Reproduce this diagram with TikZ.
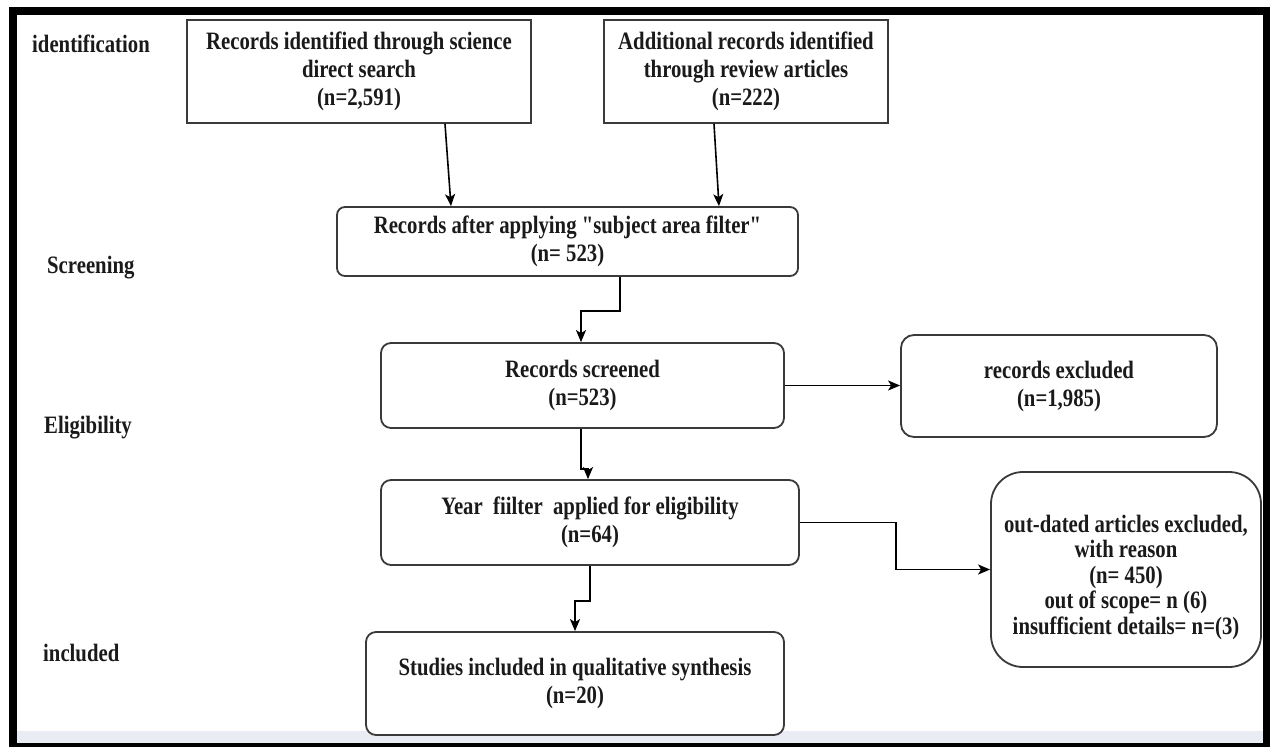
\documentclass[tikz,border=0pt]{standalone}
\usepackage{fontspec}
\setmainfont{Liberation Serif}[FakeStretch=0.83, Ligatures=TeXOff]
\usetikzlibrary{arrows.meta,calc}
\definecolor{boxc}{HTML}{3A3A3A}
\definecolor{txt}{HTML}{1A1A1A}
\definecolor{bandc}{HTML}{E9EDF3}
\begin{document}
\begin{tikzpicture}[x=1pt,y=-1pt,
  txtfont/.style={font=\fontsize{25}{28}\selectfont\bfseries},
  box/.style={draw=boxc, line width=1.8pt, fill=white, inner sep=0pt, align=center, text=txt, txtfont},
  rbox/.style={box, rounded corners=#1},
  lab/.style={text=txt, inner sep=0pt, anchor=base west, txtfont},
  arr/.style={draw=black, line width=1.6pt, -{Stealth[length=12pt,width=10pt,inset=3pt]}},
]
\useasboundingbox (0,0) rectangle (1270,747);
\fill[white] (0,0) rectangle (1270,747);
\fill[bandc] (17,731) rectangle (1263,743);
\draw[line width=8pt] (13,11) rectangle (1267,747);

% stage labels
\node[lab] (lid) at (32,52) {identification};
\node[lab] (lsc) at (47,273) {Screening};
\node[lab] (lel) at (44,433) {Eligibility};
\node[lab] (lin) at (43,661) {included};

% boxes
\node[box, minimum width=344pt, minimum height=103pt] (b1) at (359,71.5)
  {Records identified through science\\direct search\\(n=2,591)};
\node[box, minimum width=284pt, minimum height=103pt] (b2) at (746,71.5)
  {Additional records identified\\through review articles\\(n=222)};
\node[rbox=8pt, minimum width=461pt, minimum height=69pt] (b3) at (567.5,241.5)
  {Records after applying "subject area filter"\\(n= 523)};
\node[rbox=10pt, minimum width=403pt, minimum height=85pt] (b4) at (582.5,385.5)
  {Records screened\\(n=523)};
\node[rbox=13pt, minimum width=316pt, minimum height=102pt] (b5) at (1059,386)
  {records excluded\\(n=1,985)};
\node[rbox=10pt, minimum width=418pt, minimum height=85pt] (b6) at (590,522.5)
  {Year~ fiilter~ applied for eligibility\\(n=64)};
\node[rbox=32pt, minimum width=270pt, minimum height=195pt] (b7) at (1126,569.5) {};
\node[text=txt, inner sep=0pt, align=center, font=\fontsize{25}{25.5}\selectfont\bfseries] (b7t) at (1126,577)
  {out-dated articles excluded,\\with reason\\(n= 450)\\out of scope= n (6)\\insufficient details= n=(3)};
\node[rbox=10pt, minimum width=418pt, minimum height=103pt] (b8) at (575,683.5)
  {Studies included in qualitative synthesis\\(n=20)};

% connectors
\draw[arr] ($(b1.south)+(86,0)$) -- ($(b3.north)+(-116.5,0)$);
\draw[arr] ($(b2.south)+(-32,0)$) -- ($(b3.north)+(151.5,0)$);
\draw[arr] ($(b3.south)+(52.5,0)$) -- ++(0,34) -| ($(b4.north)+(-1.5,0)$);
\draw[arr] (b4.east) -- (b4.east -| b5.west);
\draw[arr] ($(b4.south)+(-1.5,0)$) -- ++(0,40) -| ($(b6.north)+(-2,0)$);
\draw[arr] (b6.east) -- ++(96,0) |- (b7.west);
\draw[arr] (b6.south) -- ++(0,35) -| (b8.north);
\end{tikzpicture}
\end{document}
